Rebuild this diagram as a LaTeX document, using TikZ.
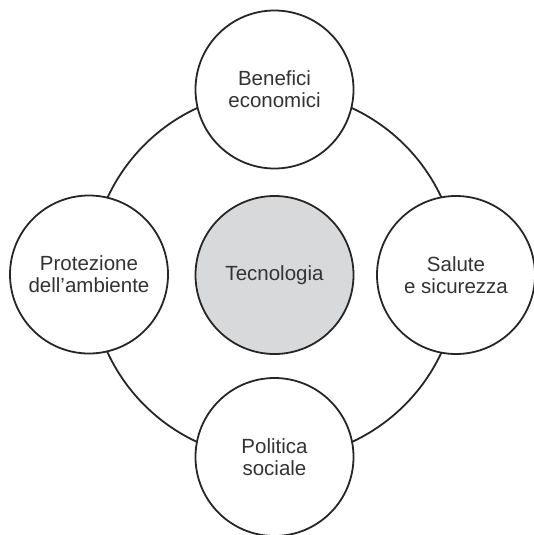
\documentclass[tikz,border=0pt]{standalone}
\usepackage{fontspec}
\setmainfont{Liberation Sans}
\definecolor{ink}{HTML}{262626}
\definecolor{txt}{HTML}{333333}
\definecolor{core}{HTML}{D8D9DB}
\tikzset{
  topic/.style={circle, draw=ink, line width=1.8pt, fill=white, minimum size=158pt,
    inner sep=0pt, align=center, text=txt,
    font=\fontsize{20.5}{22}\selectfont},
  hub/.style={topic, fill=core},
  ring/.style={draw=ink, line width=1.8pt}
}
\begin{document}
\begin{tikzpicture}[x=1pt,y=-1pt]
  \useasboundingbox (0,0) rectangle (534,535);
  % central node and the ring that links the four topics
  \node[hub] (tec) at (274.5,275) {Tecnologia};
  \draw[ring] (tec.center) circle (184);
  % the four topics sitting on the ring
  \node[topic] (ben) at (274.5,89.5) {Benefici\\economici};
  \node[topic] (pro) at (89,274.5) {Protezione\\dell’ambiente};
  \node[topic] (sal) at (456,275) {Salute\\e sicurezza};
  \node[topic] (pol) at (274.5,457) {Politica\\sociale};
\end{tikzpicture}
\end{document}
